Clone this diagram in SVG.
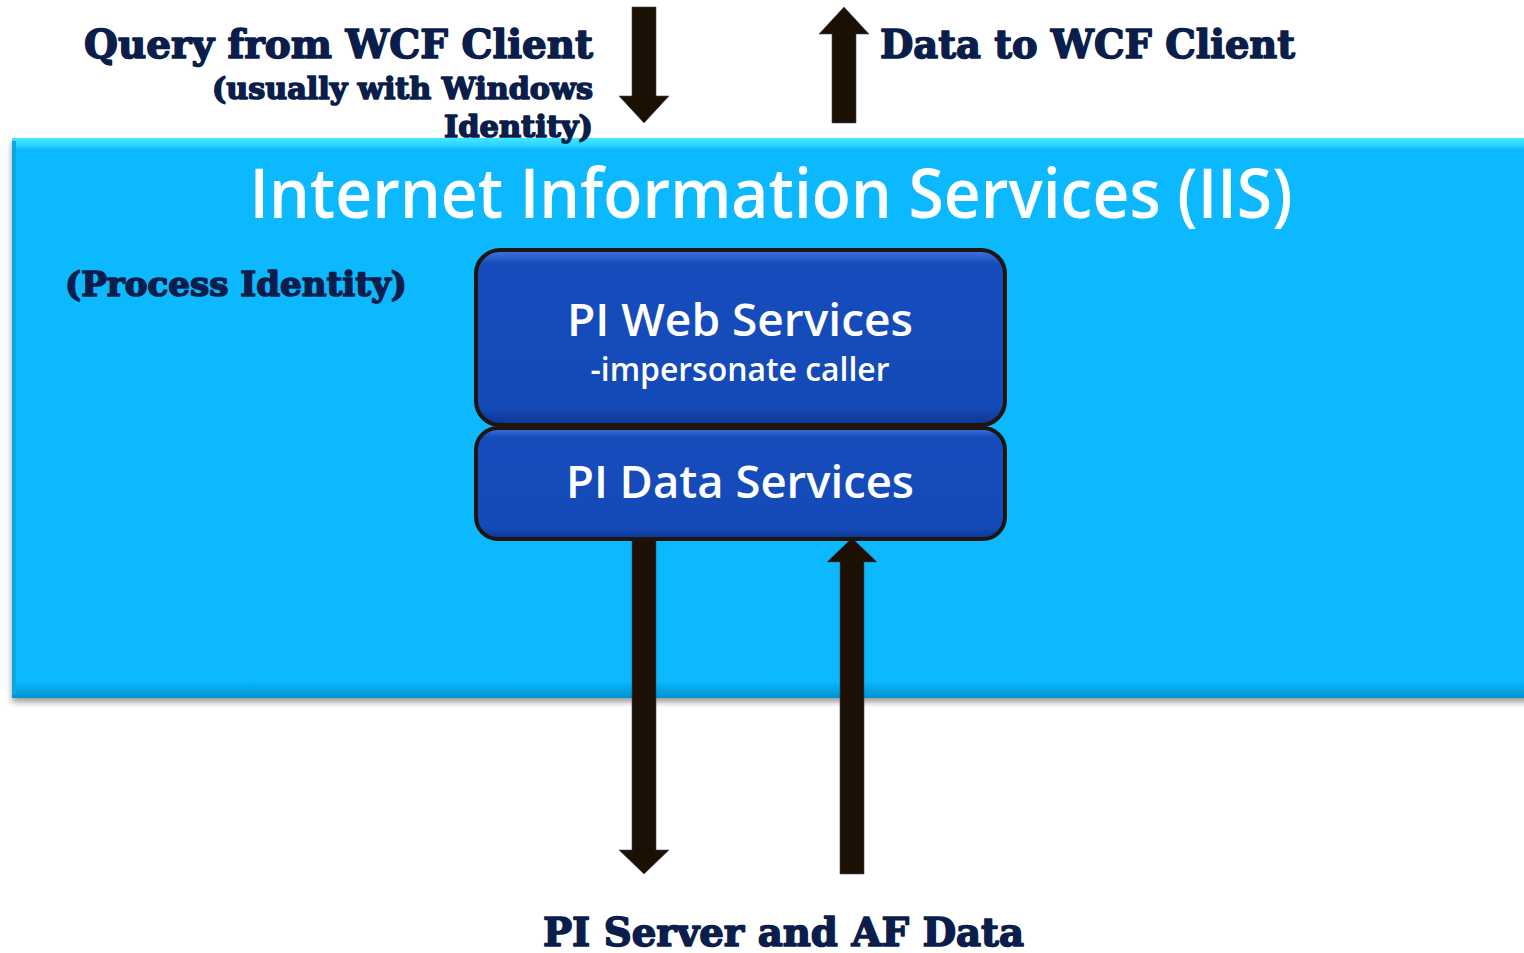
<svg xmlns="http://www.w3.org/2000/svg" width="1524" height="953" viewBox="0 0 1524 953">
<style>
.cb{font-family:"DejaVu Serif","Liberation Serif",serif;font-weight:bold;fill:#0b1e4b;stroke:#0b1e4b;stroke-width:1.6;stroke-linejoin:round}
.wt{font-family:"Open Sans","Noto Sans","Liberation Sans",sans-serif;fill:#ffffff}
.arrow{fill:#1c1005;stroke:#3a4a70;stroke-width:0.6}
.box{fill:url(#boxg);stroke:#1e1510;stroke-width:4}
</style>
<defs>
<linearGradient id="bandg" x1="0" y1="0" x2="0" y2="1">
<stop offset="0" stop-color="#44e6ff"/>
<stop offset="0.012" stop-color="#2fd6ff"/>
<stop offset="0.022" stop-color="#07b9fe"/>
<stop offset="0.97" stop-color="#07b9fe"/>
<stop offset="1" stop-color="#0592cc"/>
</linearGradient>
<linearGradient id="boxg" x1="0" y1="0" x2="0" y2="1">
<stop offset="0" stop-color="#3e78e0"/>
<stop offset="0.08" stop-color="#164cbb"/>
<stop offset="0.9" stop-color="#144ab8"/>
<stop offset="1" stop-color="#0d3590"/>
</linearGradient>
<filter id="sh" x="-5%" y="-5%" width="110%" height="115%">
<feDropShadow dx="0" dy="4" stdDeviation="3" flood-color="#000" flood-opacity="0.4"/>
</filter>
</defs>
<rect width="1524" height="953" fill="#ffffff"/>
<g id="iis">
<rect x="12" y="138" width="1530" height="560" fill="url(#bandg)" filter="url(#sh)"/>
<rect x="12" y="141" width="4" height="554" fill="#0aa6e6"/>
<text class="wt" x="771" y="218" font-size="68" font-weight="600" text-anchor="middle" textLength="1043" lengthAdjust="spacingAndGlyphs">Internet Information Services (IIS)</text>
<text class="cb" x="65" y="296" font-size="34" textLength="342" lengthAdjust="spacingAndGlyphs">(Process Identity)</text>
</g>
<g id="connectors">
<polygon class="arrow" points="632,7 656,7 656,96 669,96 644,123 619,96 632,96"/>
<polygon class="arrow" points="832,123 856,123 856,34 869,34 844,7 819,34 832,34"/>
<polygon class="arrow" points="632,538 656,538 656,850 669,850 644,874 619,850 632,850"/>
<polygon class="arrow" points="840,874 864,874 864,562 877,562 852,538 827,562 840,562"/>
</g>
<g id="pi-web-services">
<rect class="box" x="476" y="250" width="529" height="175" rx="24"/>
<text class="wt" x="740" y="336" font-size="46" font-weight="600" text-anchor="middle" textLength="346" lengthAdjust="spacingAndGlyphs">PI Web Services</text>
<text class="wt" x="740" y="381" font-size="32" font-weight="600" text-anchor="middle" textLength="299" lengthAdjust="spacingAndGlyphs">-impersonate caller</text>
</g>
<g id="pi-data-services">
<rect class="box" x="476" y="428" width="529" height="111" rx="22"/>
<text class="wt" x="740" y="498" font-size="46" font-weight="600" text-anchor="middle" textLength="348" lengthAdjust="spacingAndGlyphs">PI Data Services</text>
</g>
<g id="query-label">
<text class="cb" x="593" y="58" font-size="40" text-anchor="end" textLength="509" lengthAdjust="spacingAndGlyphs">Query from WCF Client</text>
<text class="cb" x="593" y="99" font-size="30" text-anchor="end" textLength="381" lengthAdjust="spacingAndGlyphs">(usually with Windows</text>
<text class="cb" x="593" y="137" font-size="30" text-anchor="end" textLength="149" lengthAdjust="spacingAndGlyphs">Identity)</text>
</g>
<g id="data-label">
<text class="cb" x="880" y="58" font-size="40" textLength="415" lengthAdjust="spacingAndGlyphs">Data to WCF Client</text>
</g>
<g id="server-label">
<text class="cb" x="543" y="946" font-size="40" textLength="481" lengthAdjust="spacingAndGlyphs">PI Server and AF Data</text>
</g>
</svg>
